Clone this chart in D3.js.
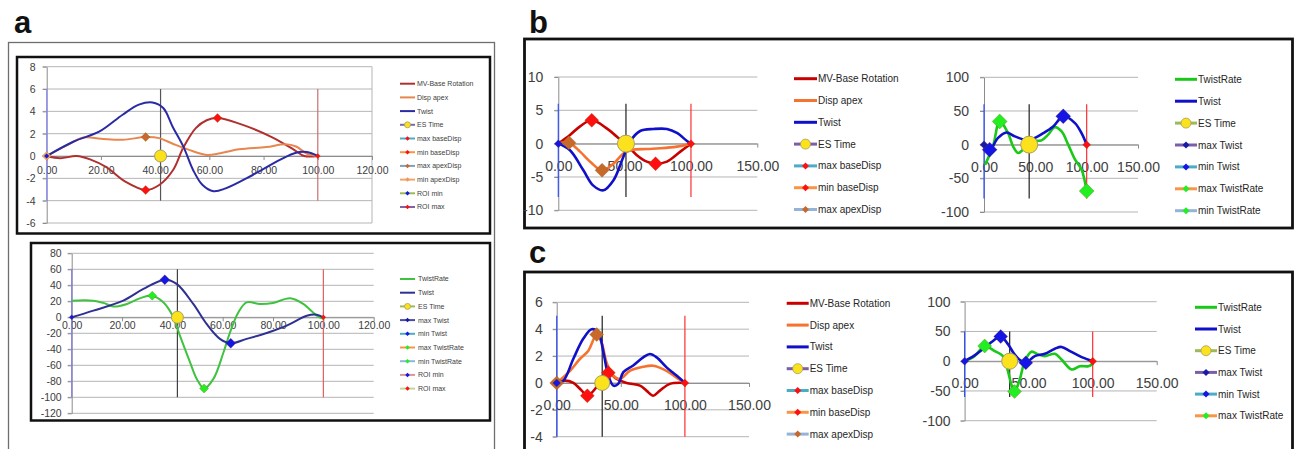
<!DOCTYPE html>
<html lang="en">
<head>
<meta charset="UTF-8" />
<title>Base rotation, apex displacement and twist</title>
<script src="https://d3js.org/d3.v7.min.js"></script>
<style>
  body { margin: 0; background: #fff; }
  svg { display: block; font-family: "Liberation Sans", Arial, sans-serif; }
</style>
</head>
<body>
<svg id="svg" width="1298" height="449"></svg>
<script>
// ---------- data (x = % of cycle, y = value) ----------
// panel a, top chart
const aTopRotation = [[0,0],[5,-0.2],[11,0],[16,-0.3],[22,-1],[29,-2.3],[36.5,-3.05],[41.5,-2.6],[46.5,-1.3],[50.5,0.8],[55,2.5],[59,3.2],[63,3.4],[71,2.9],[83,1.7],[91,0.6],[95,0],[100,0]];
const aTopDisp = [[0,0],[7,0.9],[13.5,1.65],[20,1.55],[28,1.45],[36.5,1.7],[41.5,1.6],[46.5,1.1],[52.5,0.55],[59,0.1],[64,0.25],[71,0.6],[81,0.8],[88,1.05],[92,0.85],[96,0.2],[100,0]];
const aTopTwist = [[0,0],[10,1.3],[19.5,2.2],[28,3.7],[34,4.6],[39,4.8],[43,4.3],[46.5,2.6],[50.5,0.8],[54,-1.25],[57.5,-2.6],[61.5,-3.15],[66,-2.9],[76,-1.7],[86,-0.35],[92,0.3],[96,0.35],[100,0]];
const aTopMarks = [[0,0],[36.5,1.7],[36.5,-3.05],[63,3.4],[100,0],[0,0]];
const aTopEs = 42;

// panel a, bottom chart
const aBotRate = [[0,20.8],[8.6,20.8],[12.6,18],[16.6,13.5],[22,16.7],[27,23.7],[32,27],[36.4,18.7],[40.4,0],[43,-23],[47,-56],[49.7,-77],[52.6,-89],[56.3,-77],[60.3,-44],[62.9,-19],[66.2,6],[69.5,18.7],[74.8,16.7],[80,18],[86.8,23.7],[92,16.7],[97.4,2],[100,-2]];
const aBotTwist = [[0,0],[8.6,8.3],[20.5,20.8],[28.5,35.4],[37,47],[41.7,41.7],[48.3,16.7],[53.6,-8.3],[58.9,-27],[63.2,-32.5],[69.5,-27],[77.5,-19.6],[85.4,-10.4],[93.4,2],[97.4,3.3],[100,0]];
const aBotMarks = [[32,27],[52.6,-89],[37,47],[63.2,-32.5],[0,0],[100,0]];
const aBotEs = 42;

// panel b, left chart
const bLeftRotation = [[0,0],[8.8,1.3],[16.4,2.6],[25.2,3.5],[36.5,2.3],[44,1.06],[51.6,-0.2],[59,-1.7],[66.7,-2.7],[73.3,-3],[81.9,-2.7],[92,-1.2],[100,0]];
const bLeftDisp = [[0,0],[8,0.15],[16.4,-1.2],[24,-2.7],[33,-4],[41.6,-3],[49,-1.5],[55.4,-0.95],[66.7,-0.8],[76.8,-0.7],[89.4,-0.45],[100,0]];
const bLeftTwist = [[0,0],[8.8,-1],[18.9,-4],[26.4,-6.3],[34,-7],[41.6,-5.5],[49,-2],[54,0.3],[61.7,1.9],[71.8,2.2],[81.9,2.2],[89.4,1.6],[97,0.4],[100,0]];
const bLeftMarks = [[8,0.15],[33,-4],[25.2,3.5],[73.3,-3],[0,0],[100,0]];
const bLeftEs = 51;

// panel b, right chart
const bRightRate = [[1,-30],[8.8,-2],[15.3,34.5],[23.5,17],[28.3,-2.5],[33.2,-12.3],[38,-7.4],[44.6,5],[56,6.4],[62.5,14.8],[69,26],[75.6,19.7],[82,0],[88.6,-22],[95,-37],[100,-69]];
const bRightTwist = [[0,0],[5.5,-7.4],[13.7,10],[21.8,18],[30,12.3],[39.7,7.4],[47.9,8.9],[57.7,17],[67.4,27],[77.2,42],[88.6,32],[95,17],[100,0]];
const bRightMarks = [[15.3,34.5],[100,-69],[5.5,-7.4],[77.2,42],[0,0],[100,0]];
const bRightEs = 44;

// panel c, left chart
const cLeftRotation = [[0,0],[6.5,0.17],[13,0],[19.5,-0.57],[23.9,-0.95],[29.9,-0.45],[35,0.3],[40.3,0.75],[46.8,0.3],[54.5,0],[65,-0.2],[70,-0.57],[75.3,-0.95],[80.5,-0.57],[88.3,-0.07],[100,0]];
const cLeftDisp = [[0,0],[10.4,0.9],[18.2,1.8],[24.7,2.4],[31.2,3.6],[35,3],[39,1.5],[44,0.55],[49.4,0.3],[57,0.9],[67.5,1.2],[75.3,1.28],[85.7,0.9],[93.5,0.4],[100,0]];
const cLeftTwist = [[0,0],[5.2,0.17],[13,1.8],[20.8,3.3],[27.3,4.0],[32.5,3.75],[36.4,2.3],[40.3,0.55],[44.2,-0.2],[48,-0.07],[52,0.8],[59.7,1.3],[67.5,1.9],[72.7,2.15],[78,1.9],[85.7,1.16],[93.5,0.55],[100,0]];
const cLeftMarks = [[0,0],[31.2,3.6],[23.9,-0.95],[40.3,0.75],[0,0],[100,0]];
const cLeftEs = 35.5;

// panel c, right chart
const cRightRate = [[0,0],[7.8,8.5],[15.7,25.6],[23.5,17],[30,8.5],[33.9,-17],[36.6,-40],[39,-51],[43,-31],[47,0],[52.2,16],[57.4,11.4],[62.7,8.5],[70.5,12.5],[75.7,2.8],[83.6,-14],[90,-8.5],[96.6,-8.5],[100,-4.5]];
const cRightTwist = [[0,0],[7.8,9.7],[15.7,22.7],[22.2,34],[28.2,41.5],[33.9,28.4],[39,11.4],[44.4,0],[47.8,-2.8],[54.8,8.5],[62.7,12.5],[70.5,21],[75.7,24],[82.2,17],[91.4,6.8],[100,0]];
const cRightMarks = [[15.7,25.6],[39,-51],[28.2,41.5],[47.8,-2.8],[0,0],[100,0]];
const cRightEs = 35.2;

const roi = [0, 100];

// tick labels
const aTopYTicks = [-6,-4,-2,0,2,4,6,8];
const aBotYTicks = [-120,-100,-80,-60,-40,-20,0,20,40,60,80];
const dispYTicks = [-10,-5,0,5,10];
const cDispYTicks = [-4,-2,0,2,4,6];
const rateYTicks = [-100,-50,0,50,100];
const aXTicks = [0,20,40,60,80,100,120];
const bcXTicks = [0,50,100,150];

// legend entries
const dispNames = ["MV-Base Rotation","Disp apex","Twist","ES Time","max baseDisp","min baseDisp","max apexDisp","min apexDisp","ROI min","ROI max"];
const rateNames = ["TwistRate","Twist","ES Time","max Twist","min Twist","max TwistRate","min TwistRate","ROI min","ROI max"];

// ---------- styles ----------
const RED = "#ff1010", BROWN = "#c8692c", GREEN = "#22ee22", BLUE = "#1515e6", YELLOW = "#fbe21d";

const aDispLegend = [{c:"#b03030"},{c:"#e8864f"},{c:"#2a2aa5"},{c:"#7a6aa8",m:"o"},{c:"#4bacc6",m:"d",f:RED},{c:"#f79646",m:"d",f:RED},{c:"#7f9fbf",m:"d",f:BROWN},{c:"#f4a46a",m:"d",f:"#ee9a5e"},{c:"#9bbb59",m:"d",f:BLUE},{c:"#8064a2",m:"d",f:RED}];
const aRateLegend = [{c:"#3fc23f"},{c:"#2e3192"},{c:"#9bbb59",m:"o"},{c:"#4a4aa8",m:"d",f:"#1a1aa0"},{c:"#4bacc6",m:"d",f:BLUE},{c:"#f79646",m:"d",f:GREEN},{c:"#8db4e2",m:"d",f:GREEN},{c:"#d99694",m:"d",f:BLUE},{c:"#c3d69b",m:"d",f:RED}];
const bcDispLegend = [{c:"#c80000"},{c:"#f5732e"},{c:"#1010c8"},{c:"#7b5ea7",m:"o"},{c:"#4bacc6",m:"d",f:RED},{c:"#f79646",m:"d",f:RED},{c:"#95b3d7",m:"d",f:BROWN}];
const bcRateLegend = [{c:"#19c819"},{c:"#1010c8"},{c:"#9bbb59",m:"o"},{c:"#7b5ea7",m:"d",f:"#1a1aa8"},{c:"#4bacc6",m:"d",f:BLUE},{c:"#f79646",m:"d",f:GREEN},{c:"#95b3d7",m:"d",f:GREEN}];

const panels = [
  {
    left: 46.7, right: 372, top: 66.7, bottom: 223, xMax: 120, yDomain: [-6, 8],
    yTicks: aTopYTicks, xTicks: aXTicks, tickFont: 10.5, yGap: 11, xPad: 7, border: true,
    curves: [{data: aTopRotation, color: "#b03030"}, {data: aTopDisp, color: "#e8864f"}, {data: aTopTwist, color: "#2a2aa5"}],
    curveW: 2, es: aTopEs, esR: 6, vRange: [6, -4], vColors: ["#8a8aff", "#555555", "#c87070"],
    marks: aTopMarks, markStyles: [{f:"#f4a870",w:9},{f:BROWN,w:9},{f:RED,w:9},{f:RED,w:9},{f:RED,w:5},{f:BLUE,w:5}],
    legend: {x: 400, y: 83.7, dy: 13.7, len: 15, gap: 2, font: 7, lw: 2, mw: 4.5, r: 3, color: "#404040", names: dispNames, styles: aDispLegend}
  },
  {
    left: 71.7, right: 373.7, top: 253.3, bottom: 413.3, xMax: 120, yDomain: [-120, 80],
    yTicks: aBotYTicks, xTicks: aXTicks, tickFont: 10.5, yGap: 10, xPad: 0,
    curves: [{data: aBotRate, color: "#3fc23f"}, {data: aBotTwist, color: "#2e3192"}],
    curveW: 2, es: aBotEs, esR: 6, vRange: [60, -100], vColors: ["#8080e0", "#404040", "#e06060"],
    marks: aBotMarks, markStyles: [{f:GREEN,w:9},{f:GREEN,w:9},{f:BLUE,w:10},{f:BLUE,w:10},{f:BLUE,w:5},{f:RED,w:5}],
    legend: {x: 400, y: 279, dy: 13.7, len: 15, gap: 3, font: 7, lw: 2, mw: 4.5, r: 3, color: "#404040", names: rateNames, styles: aRateLegend}
  },
  {
    left: 558.3, right: 757.3, top: 77, bottom: 210.3, xMax: 150, yDomain: [-10, 10],
    yTicks: dispYTicks, xTicks: bcXTicks, tickFont: 14, yGap: 15, xPad: 13,
    curves: [{data: bLeftRotation, color: "#c80000"}, {data: bLeftDisp, color: "#f5732e"}, {data: bLeftTwist, color: "#1010c8"}],
    curveW: 2.6, es: bLeftEs, esR: 8.5, vRange: [6, -8], vColors: ["#3050ff", "#202020", "#ff3030"],
    marks: bLeftMarks, markStyles: [{f:BROWN,w:14},{f:BROWN,w:14},{f:RED,w:14},{f:RED,w:14},{f:BLUE,w:8},{f:RED,w:8}],
    legend: {x: 794, y: 78.7, dy: 21.8, len: 23, gap: 1, font: 10, lw: 3, mw: 7, r: 5, color: "#262626", names: dispNames.slice(0, 7), styles: bcDispLegend}
  },
  {
    left: 984, right: 1138, top: 77.3, bottom: 212, xMax: 150, yDomain: [-100, 100],
    yTicks: rateYTicks, xTicks: bcXTicks, tickFont: 14, yGap: 15, xPad: 13,
    curves: [{data: bRightRate, color: "#19c819"}, {data: bRightTwist, color: "#1010c8"}],
    curveW: 2.6, es: bRightEs, esR: 8.5, vRange: [60, -80], vColors: ["#3050ff", "#202020", "#ff3030"],
    marks: bRightMarks, markStyles: [{f:GREEN,w:15},{f:GREEN,w:15},{f:BLUE,w:15},{f:BLUE,w:15},{f:"#1a1aa8",w:8},{f:RED,w:8}],
    legend: {x: 1175, y: 79.3, dy: 21.9, len: 22, gap: 1, font: 10, lw: 3, mw: 7, r: 5, color: "#262626", names: rateNames.slice(0, 7), styles: bcRateLegend}
  },
  {
    left: 556.7, right: 749, top: 302.3, bottom: 436.7, xMax: 150, yDomain: [-4, 6],
    yTicks: cDispYTicks, xTicks: bcXTicks, tickFont: 14, yGap: 14, xPad: 13,
    curves: [{data: cLeftRotation, color: "#c80000"}, {data: cLeftDisp, color: "#f5732e"}, {data: cLeftTwist, color: "#1010c8"}],
    curveW: 2.6, es: cLeftEs, esR: 7.5, vRange: [5, -4], vColors: ["#3050ff", "#202020", "#ff3030"],
    marks: cLeftMarks, markStyles: [{f:BROWN,w:14},{f:BROWN,w:14},{f:RED,w:14},{f:RED,w:14},{f:BLUE,w:8},{f:RED,w:8}],
    legend: {x: 786.7, y: 303.3, dy: 21.8, len: 22, gap: 1, font: 10, lw: 3, mw: 7, r: 5, color: "#262626", names: dispNames.slice(0, 7), styles: bcDispLegend}
  },
  {
    left: 964.6, right: 1156.7, top: 301.7, bottom: 420.7, xMax: 150, yDomain: [-100, 100],
    yTicks: rateYTicks, xTicks: bcXTicks, tickFont: 14, yGap: 14, xPad: 13,
    curves: [{data: cRightRate, color: "#19c819"}, {data: cRightTwist, color: "#1010c8"}],
    curveW: 2.6, es: cRightEs, esR: 8, vRange: [50, -60], vColors: ["#3050ff", "#202020", "#ff3030"],
    marks: cRightMarks, markStyles: [{f:GREEN,w:14},{f:GREEN,w:14},{f:BLUE,w:14},{f:BLUE,w:14},{f:BLUE,w:8},{f:RED,w:8}],
    legend: {x: 1195, y: 307.3, dy: 21.7, len: 22, gap: 1, font: 10, lw: 3, mw: 7, r: 5, color: "#262626", names: rateNames.slice(0, 6), styles: bcRateLegend}
  }
];

const svg = d3.select("#svg");

function diamondPath(w) {
  const h = w / 2;
  return `M0,${-h}L${h},0L0,${h}L${-h},0Z`;
}

// frames and panel letters
svg.append("rect").attr("x", 8.5).attr("y", 42.5).attr("width", 486).attr("height", 430)
  .attr("fill", "none").attr("stroke", "#6e6e6e").attr("stroke-width", 1.3);
svg.append("rect").attr("x", 17).attr("y", 57).attr("width", 473).attr("height", 176.5)
  .attr("fill", "none").attr("stroke", "#111").attr("stroke-width", 2.5);
svg.append("rect").attr("x", 31).attr("y", 243).attr("width", 459).attr("height", 177.5)
  .attr("fill", "none").attr("stroke", "#111").attr("stroke-width", 2.5);
svg.append("rect").attr("x", 524.5).attr("y", 39).attr("width", 768).attr("height", 189)
  .attr("fill", "none").attr("stroke", "#111").attr("stroke-width", 2.8);
svg.append("rect").attr("x", 524.5).attr("y", 272).attr("width", 768).attr("height", 200)
  .attr("fill", "none").attr("stroke", "#111").attr("stroke-width", 2.8);

svg.selectAll("text.letter").data([["a", 14, 33], ["b", 529, 33], ["c", 529, 263]]).join("text")
  .attr("class", "letter").attr("x", d => d[1]).attr("y", d => d[2])
  .attr("font-size", 31).attr("font-weight", "bold").attr("fill", "#111").text(d => d[0]);

function drawPanel(p) {
  const g = svg.append("g");
  const x = d3.scaleLinear().domain([0, p.xMax]).range([p.left, p.right]);
  const y = d3.scaleLinear().domain(p.yDomain).range([p.bottom, p.top]);

  // gridlines
  g.append("g").selectAll("line").data(p.yTicks).join("line")
    .attr("x1", p.left - 4).attr("x2", p.right)
    .attr("y1", d => y(d)).attr("y2", d => y(d))
    .attr("stroke", "#b5b5b5");
  if (p.border) {
    g.append("line").attr("x1", p.right).attr("x2", p.right)
      .attr("y1", p.top).attr("y2", p.bottom).attr("stroke", "#b5b5b5");
  }

  const yAxis = g.append("g").attr("transform", `translate(${p.left},0)`)
    .call(d3.axisLeft(y).tickValues(p.yTicks).tickSizeInner(4).tickSizeOuter(0)
      .tickPadding(p.yGap - 4).tickFormat(d => String(d)));
  const xAxis = g.append("g").attr("transform", `translate(0,${y(0)})`)
    .call(d3.axisBottom(x).tickValues(p.xTicks).tickSizeInner(4).tickSizeOuter(0)
      .tickPadding(p.xPad).tickFormat(d => d.toFixed(2)));
  [yAxis, xAxis].forEach(a => {
    a.attr("font-family", null).attr("font-size", null);
    a.selectAll("path, line").attr("stroke", "#8c8c8c");
    a.selectAll("text").attr("fill", "#404040").style("font-size", p.tickFont + "px");
  });

  // ROI and ES vertical lines
  const vl = [[roi[0], p.vColors[0]], [p.es, p.vColors[1]], [roi[1], p.vColors[2]]];
  g.append("g").selectAll("line").data(vl).join("line")
    .attr("x1", d => x(d[0])).attr("x2", d => x(d[0]))
    .attr("y1", y(p.vRange[0])).attr("y2", y(p.vRange[1]))
    .attr("stroke", d => d[1]).attr("stroke-width", 1.2);

  // curves
  const line = d3.line().x(d => x(d[0])).y(d => y(d[1])).curve(d3.curveCatmullRom.alpha(0.5));
  g.append("g").selectAll("path").data(p.curves).join("path")
    .attr("d", d => line(d.data)).attr("fill", "none")
    .attr("stroke", d => d.color).attr("stroke-width", p.curveW);

  // markers
  g.append("g").selectAll("path").data(p.marks).join("path")
    .attr("transform", d => `translate(${x(d[0])},${y(d[1])})`)
    .attr("d", (d, i) => diamondPath(p.markStyles[i].w))
    .attr("fill", (d, i) => p.markStyles[i].f)
    .attr("stroke", "rgba(120,80,0,0.45)").attr("stroke-width", 0.6);
  g.append("circle").attr("cx", x(p.es)).attr("cy", y(0)).attr("r", p.esR)
    .attr("fill", YELLOW).attr("stroke", "#a8a060").attr("stroke-width", 1);

  // legend
  const L = p.legend;
  const rows = g.append("g").selectAll("g")
    .data(L.names.map((n, i) => ({name: n, st: L.styles[i]}))).join("g")
    .attr("transform", (d, i) => `translate(${L.x},${L.y + i * L.dy})`);
  rows.append("line").attr("x1", 0).attr("x2", L.len)
    .attr("stroke", d => d.st.c).attr("stroke-width", L.lw);
  rows.filter(d => d.st.m === "d").append("path")
    .attr("transform", `translate(${L.len / 2},0)`).attr("d", diamondPath(L.mw))
    .attr("fill", d => d.st.f);
  rows.filter(d => d.st.m === "o").append("circle")
    .attr("cx", L.len / 2).attr("r", L.r).attr("fill", YELLOW)
    .attr("stroke", "#a8a060").attr("stroke-width", 0.8);
  rows.append("text").attr("x", L.len + L.gap).attr("dy", "0.35em")
    .attr("font-size", L.font).attr("fill", L.color).text(d => d.name);
}

panels.forEach(drawPanel);
</script>
</body>
</html>
